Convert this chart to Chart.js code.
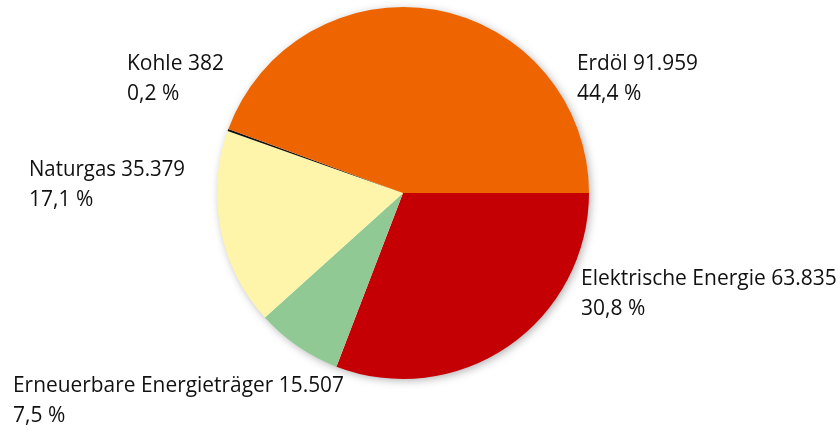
<!DOCTYPE html>
<html>
<head>
<meta charset="utf-8">
<script src="https://cdn.jsdelivr.net/npm/chart.js@4"></script>
<style>
	html, body { margin: 0; padding: 0; background: #fff; }
	#wrap { width: 840px; height: 426px; }
</style>
</head>
<body>
<div id="wrap"><canvas id="chart" width="840" height="426"></canvas></div>
<script>
(function () {
	/*global Chart */

	// Energieverbrauch nach Energieträgern (clockwise from 3 o'clock)
	var categories = ['Elektrische Energie', 'Erneuerbare Energieträger', 'Naturgas', 'Kohle', 'Erdöl'];
	var values = [63835, 15507, 35379, 382, 91959];
	var valueLabels = ['63.835', '15.507', '35.379', '382', '91.959'];
	var percentLabels = ['30,8 %', '7,5 %', '17,1 %', '0,2 %', '44,4 %'];
	var colors = ['#c50005', '#90c993', '#fff5aa', '#111111', '#ee6500'];

	// Where each label block sits (left x, first baseline, max width)
	var labelSpots = [
		{ x: 581, y: 285, w: 258 },
		{ x: 13, y: 392, w: 331 },
		{ x: 29, y: 176, w: 156 },
		{ x: 127, y: 70, w: 97 },
		{ x: 577, y: 70, w: 121 },
	];

	var fontFamily = '"Open Sans", "Noto Sans", sans-serif';

	// Soft shadow behind the pie
	var pieShadow = {
		id: 'pieShadow',
		beforeDatasetsDraw: function (chart) {
			var arc = chart.getDatasetMeta(0).data[0];
			if (!arc) {
				return;
			}
			var ctx = chart.ctx;
			ctx.save();
			ctx.shadowColor = 'rgba(0,0,0,0.35)';
			ctx.shadowBlur = 10;
			ctx.shadowOffsetX = 2;
			ctx.shadowOffsetY = 2;
			ctx.fillStyle = '#ffffff';
			ctx.beginPath();
			ctx.arc(arc.x, arc.y, arc.outerRadius - 1, 0, Math.PI * 2);
			ctx.fill();
			ctx.restore();
		},
	};

	var sliceLabels = {
		id: 'sliceLabels',
		afterDraw: function (chart) {
			var ctx = chart.ctx;
			ctx.save();
			ctx.fillStyle = '#111111';
			ctx.font = '21px ' + fontFamily;
			ctx.textAlign = 'left';
			ctx.textBaseline = 'alphabetic';
			for (var i = 0; i < categories.length; i++) {
				var spot = labelSpots[i];
				ctx.fillText(categories[i] + ' ' + valueLabels[i], spot.x, spot.y, spot.w);
				ctx.fillText(percentLabels[i], spot.x, spot.y + 30);
			}
			ctx.restore();
		},
	};

	new Chart(document.getElementById('chart'), {
		type: 'pie',
		data: {
			labels: categories,
			datasets: [
				{
					data: values,
					backgroundColor: colors,
					borderWidth: 0,
				},
			],
		},
		options: {
			responsive: false,
			animation: false,
			rotation: 90,
			layout: {
				padding: { left: 217, right: 251, top: 7, bottom: 47 },
			},
			plugins: {
				legend: { display: false },
				tooltip: { enabled: false },
			},
		},
		plugins: [pieShadow, sliceLabels],
	});
})();
</script>
</body>
</html>
